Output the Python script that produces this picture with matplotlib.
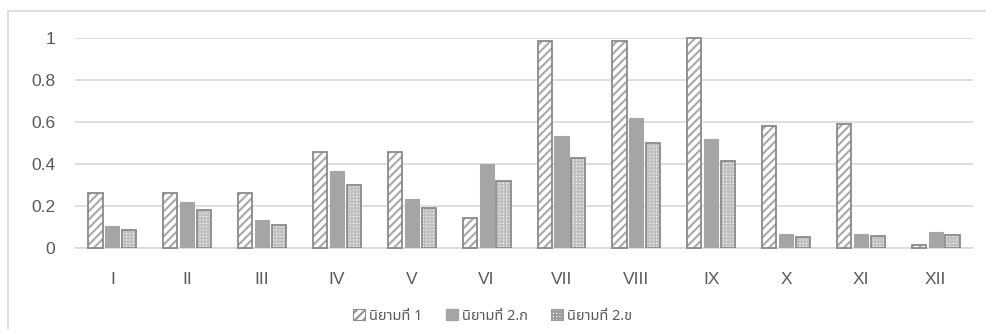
import numpy as np
import matplotlib
matplotlib.use('Agg')
import matplotlib.pyplot as plt
from matplotlib.patches import Rectangle, Patch

# ---------- data ----------
categories = ['I', 'II', 'III', 'IV', 'V', 'VI', 'VII', 'VIII', 'IX', 'X', 'XI', 'XII']
series_names = ['นิยามที่ 1', 'นิยามที่ 2.ก', 'นิยามที่ 2.ข']
def1 = [0.26, 0.26, 0.26, 0.46, 0.46, 0.145, 0.985, 0.985, 1.0, 0.58, 0.59, 0.015]
def2a = [0.105, 0.22, 0.135, 0.365, 0.235, 0.40, 0.535, 0.62, 0.52, 0.065, 0.068, 0.075]
def2b = [0.085, 0.18, 0.11, 0.30, 0.19, 0.32, 0.43, 0.50, 0.415, 0.055, 0.057, 0.06]
yticks = [0, 0.2, 0.4, 0.6, 0.8, 1]
ytick_labels = ['0', '0.2', '0.4', '0.6', '0.8', '1']

plt.rcParams['font.family'] = ['Liberation Sans', 'Noto Sans Thai', 'DejaVu Sans']
plt.rcParams['hatch.linewidth'] = 1.5

fig = plt.figure(figsize=(9.86, 3.29), dpi=100)
ax = fig.add_axes([0.076, 0.246, 0.911, 0.638])

x = np.arange(len(categories))
w = 0.19
pitch = 0.225
border = '#8a8a8a'
stripe = '#a8a8a8'
solid = '#a5a5a5'
checker = '#c0c0c0'

# series 1: diagonal stripes (hatch drawn in its own colour, outline on top)
ax.bar(x - pitch, def1, w, color='white', edgecolor=stripe, hatch='////', linewidth=0,
       zorder=3, clip_on=False)
ax.bar(x - pitch, def1, w, fill=False, edgecolor=border, linewidth=1.3, zorder=4,
       clip_on=False)
# series 2: solid
ax.bar(x, def2a, w, color=solid, edgecolor=solid, linewidth=0.8, zorder=3)
# series 3: fine checker
ax.bar(x + pitch, def2b, w, color='white', edgecolor=checker, hatch='+++++', linewidth=0,
       zorder=3)
ax.bar(x + pitch, def2b, w, fill=False, edgecolor=border, linewidth=1.3, zorder=4)

ax.set_xlim(-0.5, len(categories) - 0.5)
ax.set_ylim(0, 1)
ax.set_yticks(yticks)
ax.set_yticklabels(ytick_labels)
ax.set_xticks(x)
ax.set_xticklabels(categories)
ax.tick_params(axis='both', length=0, labelsize=12.5, labelcolor='#595959')
ax.tick_params(axis='y', pad=14)
ax.tick_params(axis='x', pad=17)
ax.yaxis.grid(True, color='#d9d9d9', linewidth=1.2, zorder=0)
for s in ['top', 'right', 'left']:
    ax.spines[s].set_visible(False)
ax.spines['bottom'].set_color('#d9d9d9')
ax.spines['bottom'].set_linewidth(1.2)

# chart area frame
fig.patches.append(Rectangle((8 / 986, -0.1), 1.0, (329 - 11) / 329 + 0.1,
                             transform=fig.transFigure, fill=False,
                             edgecolor='#d9d9d9', linewidth=1.2))

handles = [Patch(facecolor='white', edgecolor='#909090', hatch='////', linewidth=0.8),
           Patch(facecolor=solid, edgecolor=solid),
           Patch(facecolor='white', edgecolor='#9c9c9c', hatch='+++++', linewidth=0.8)]
ax.legend(handles, series_names, loc='center', bbox_to_anchor=(0.5, 13 / 329),
          bbox_transform=fig.transFigure, ncol=3, frameon=False, labelcolor='#595959',
          prop={'family': ['Noto Sans Thai', 'Liberation Sans'], 'size': 10.5},
          handlelength=0.8, handleheight=0.8, handletextpad=0.3, columnspacing=1.6)

fig.savefig('out.png', dpi=100)
